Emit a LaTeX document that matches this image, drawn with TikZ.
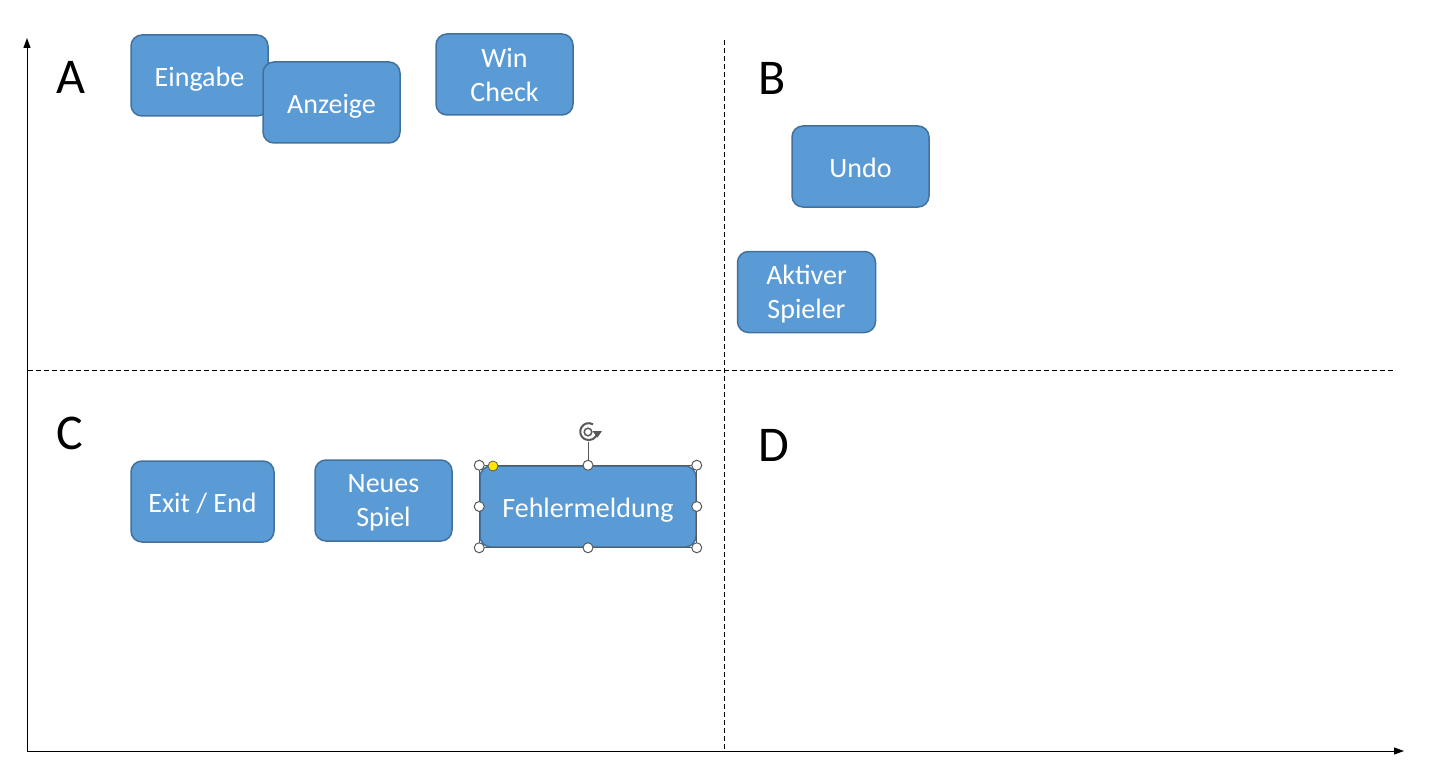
\documentclass[tikz,border=0pt]{standalone}
\usepackage{fontspec}
\setmainfont{Carlito}
\usetikzlibrary{arrows.meta}
\definecolor{boxfill}{HTML}{5B9BD5}
\definecolor{boxline}{HTML}{41719C}
\definecolor{selgray}{HTML}{595959}
\tikzset{
  card/.style={draw=boxline, line width=1.5pt, fill=boxfill, rounded corners=11pt,
    text=white, font=\fontsize{28}{34}\selectfont, align=center, inner sep=0pt},
  oneline/.style={text height=22pt, text depth=0pt},
  twoline/.style={text depth=0pt},
  quadlabel/.style={font=\fontsize{50}{60}\selectfont, text=black, inner sep=0pt},
  axisline/.style={line width=1pt, -{Triangle[length=10pt,width=7pt]}},
  divider/.style={line width=0.9pt, dash pattern=on 5pt off 3pt},
  handle/.style={circle, draw=selgray, fill=white, line width=1pt, minimum size=10pt, inner sep=0pt},
  yhandle/.style={circle, draw=selgray, fill=yellow!90!orange, line width=0.8pt, minimum size=10pt, inner sep=0pt}
}
\begin{document}
\begin{tikzpicture}[x=1pt,y=-1pt]
\useasboundingbox (0,0) rectangle (1443,781);
% axes
\coordinate (origin) at (27,751);
\coordinate (ytop) at (27,38);
\coordinate (xend) at (1404,751);
\draw[axisline] (origin) -- (ytop);
\draw[axisline] (origin) -- (xend);
% dividers
\coordinate (vtop) at (724,40);
\coordinate (vbot) at (724,751);
\coordinate (hleft) at (28,370);
\coordinate (hright) at (1393,370);
\draw[divider] (vtop) -- (vbot);
\draw[divider] (hleft) -- (hright);
% quadrant labels
\node[quadlabel] (lA) at (71,77) {A};
\node[quadlabel] (lB) at (772,78) {B};
\node[quadlabel] (lC) at (70,433) {C};
\node[quadlabel] (lD) at (774,445) {D};
% cards
\node[card, oneline, minimum width=137pt, minimum height=81pt] (eingabe) at (199.5,75.5) {Eingabe};
\node[card, oneline, minimum width=137pt, minimum height=81pt] (anzeige) at (331.5,102.5) {Anzeige};
\node[card, twoline, minimum width=137pt, minimum height=81pt] (wincheck) at (504.5,74.5) {Win\\Check};
\node[card, oneline, minimum width=137pt, minimum height=81pt] (undo) at (860.5,166.5) {Undo};
\node[card, twoline, minimum width=138pt, minimum height=81pt] (aktiv) at (806.5,292) {Aktiver\\Spieler};
\node[card, oneline, minimum width=143pt, minimum height=81pt] (exit) at (202.5,501.5) {Exit / End};
\node[card, twoline, minimum width=137pt, minimum height=81pt] (neues) at (383.5,500.5) {Neues\\Spiel};
\node[card, oneline, minimum width=216pt, minimum height=81pt] (fehler) at (588,506.5) {Fehlermeldung};
% selection frame
\draw[selgray, line width=1pt] (fehler.south west) rectangle (fehler.north east);
\coordinate (rotbase) at (588,442);
\draw[selgray, line width=1pt] (fehler.north) -- (rotbase);
\draw[selgray, line width=2pt] (593,424.3) arc[start angle=60, end angle=345, radius=8.5pt];
\draw[selgray, line width=1.5pt] (588,432) circle[radius=3.8pt];
\fill[selgray] (592.5,431) -- (602,431) -- (597.5,437.5) -- cycle;
\node[handle] (h1) at (fehler.north west) {};
\node[handle] (h2) at (fehler.north) {};
\node[handle] (h3) at (fehler.north east) {};
\node[handle] (h4) at (fehler.west) {};
\node[handle] (h5) at (fehler.east) {};
\node[handle] (h6) at (fehler.south west) {};
\node[handle] (h7) at (fehler.south) {};
\node[handle] (h8) at (fehler.south east) {};
\node[yhandle] (hy) at (493,466) {};
\end{tikzpicture}
\end{document}
